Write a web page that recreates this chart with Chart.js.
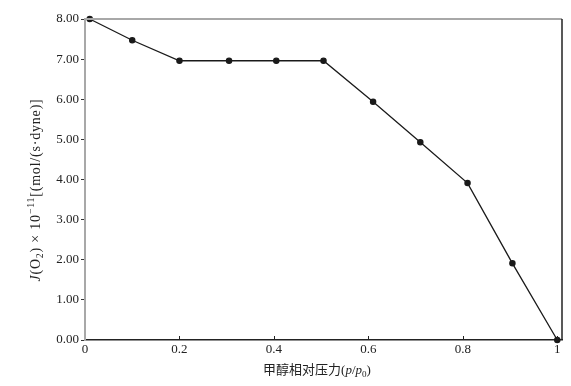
<!DOCTYPE html>
<html>
<head>
<meta charset="utf-8">
<script src="https://cdn.jsdelivr.net/npm/chart.js@4.4.1/dist/chart.umd.min.js"></script>
<style>
  html, body { margin: 0; padding: 0; background: #fff; }
  #wrap { width: 571px; height: 386px; position: relative; }
</style>
</head>
<body>
<div id="wrap"><canvas id="chart"></canvas></div>
<script>
// relative pressure of methanol (p/p0) and permeation flux J(O2)
const pressure = [0.01, 0.10, 0.20, 0.305, 0.405, 0.505, 0.61, 0.71, 0.81, 0.905, 1.0];
const flux = [8.0, 7.47, 6.96, 6.96, 6.96, 6.96, 5.94, 4.93, 3.91, 1.91, 0.0];
const xTicks = [0, 0.2, 0.4, 0.6, 0.8, 1];
const yTicks = [0, 1, 2, 3, 4, 5, 6, 7, 8];

const serif = '"Liberation Serif", "Times New Roman", "Noto Sans CJK SC", serif';

const xTitle = [
  { t: "甲醇相对压力(" },
  { t: "p", it: true },
  { t: "/" },
  { t: "p", it: true },
  { t: "0", sub: true },
  { t: ")" },
];
const yTitle = [
  { t: "J", it: true },
  { t: "(O" },
  { t: "2", sub: true },
  { t: ") × 10" },
  { t: "−11", sup: true },
  { t: "[(mol/(s·dyne)]" },
];

function setFont(ctx, p, size) {
  const s = p.sub || p.sup ? size * 0.7 : size;
  ctx.font = (p.it ? "italic " : "") + s + "px " + serif;
}

function drawRich(ctx, parts, size, cx, cy, spacing) {
  ctx.letterSpacing = (spacing || 0) + "px";
  let w = 0;
  parts.forEach(p => { setFont(ctx, p, size); w += ctx.measureText(p.t).width; });
  let x = cx - w / 2;
  ctx.textBaseline = "alphabetic";
  ctx.textAlign = "left";
  parts.forEach(p => {
    setFont(ctx, p, size);
    let y = cy + size * 0.35;
    if (p.sub) y += size * 0.25;
    if (p.sup) y -= size * 0.4;
    ctx.fillText(p.t, x, y);
    x += ctx.measureText(p.t).width;
  });
  ctx.letterSpacing = "0px";
}

const framePlugin = {
  id: "frame",
  afterDraw(chart) {
    const { ctx, chartArea: a, scales } = chart;
    ctx.save();
    // top border
    ctx.strokeStyle = "#a8a8a8";
    ctx.lineWidth = 2;
    ctx.beginPath();
    ctx.moveTo(a.left, a.top);
    ctx.lineTo(a.right, a.top);
    ctx.stroke();
    // right border
    ctx.strokeStyle = "#222";
    ctx.lineWidth = 1.5;
    ctx.beginPath();
    ctx.moveTo(a.right, a.top);
    ctx.lineTo(a.right, a.bottom);
    ctx.stroke();
    // inward ticks on x axis
    ctx.lineWidth = 1;
    xTicks.forEach(v => {
      if (v === 0) return;
      const px = Math.round(scales.x.getPixelForValue(v)) + 0.5;
      ctx.beginPath();
      ctx.moveTo(px, a.bottom);
      ctx.lineTo(px, a.bottom - 4);
      ctx.stroke();
    });
    // axis titles
    ctx.fillStyle = "#222";
    drawRich(ctx, xTitle, 13, 317, 369, 0);
    ctx.translate(35, 190);
    ctx.rotate(-Math.PI / 2);
    drawRich(ctx, yTitle, 14, 0, 0, 0.8);
    ctx.restore();
  }
};

new Chart(document.getElementById("chart"), {
  type: "scatter",
  data: {
    datasets: [{
      data: pressure.map((p, i) => ({ x: p, y: flux[i] })),
      showLine: true,
      borderColor: "#1a1a1a",
      backgroundColor: "#1a1a1a",
      borderWidth: 1.3,
      pointRadius: 2.6,
      pointHoverRadius: 2.6,
      tension: 0,
      clip: false,
    }],
  },
  options: {
    responsive: true,
    maintainAspectRatio: false,
    animation: false,
    layout: { padding: { left: 0, right: 9, top: 19, bottom: 0 } },
    plugins: { legend: { display: false }, tooltip: { enabled: false } },
    scales: {
      x: {
        type: "linear",
        min: 0,
        max: 1.01,
        afterBuildTicks: s => { s.ticks = xTicks.map(v => ({ value: v })); },
        afterFit: s => { s.height = 46; },
        grid: { drawOnChartArea: false, drawTicks: false },
        border: { color: "#222", width: 1.5 },
        ticks: {
          padding: 2,
          color: "#222",
          font: { family: serif, size: 13 },
          maxRotation: 0,
          callback: v => String(v),
        },
      },
      y: {
        min: 0,
        max: 8,
        afterBuildTicks: s => { s.ticks = yTicks.map(v => ({ value: v })); },
        afterFit: s => { s.width = 85; },
        grid: { drawOnChartArea: false, tickLength: 4, color: "#333" },
        border: { color: "#a8a8a8", width: 2 },
        ticks: {
          padding: 2,
          color: "#222",
          font: { family: serif, size: 13 },
          callback: v => Number(v).toFixed(2),
        },
      },
    },
  },
  plugins: [framePlugin],
});
</script>
</body>
</html>
